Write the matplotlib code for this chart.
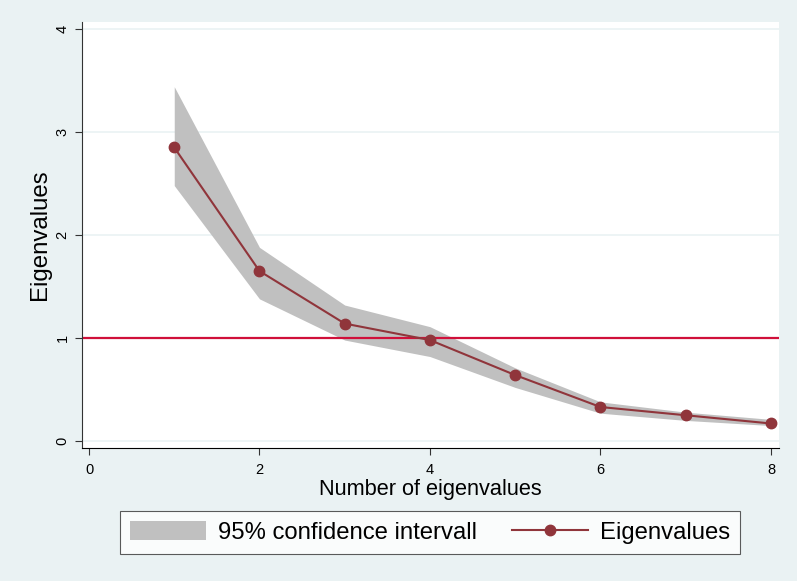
import matplotlib
matplotlib.use("Agg")
import matplotlib.pyplot as plt

plt.rcParams["font.family"] = ["Liberation Sans", "DejaVu Sans"]

# scree plot data
components = [1, 2, 3, 4, 5, 6, 7, 8]
eigenvalues = [2.85, 1.65, 1.14, 0.98, 0.64, 0.33, 0.25, 0.17]
ci_upper = [3.44, 1.88, 1.32, 1.11, 0.71, 0.38, 0.28, 0.21]
ci_lower = [2.48, 1.38, 0.98, 0.82, 0.52, 0.27, 0.20, 0.15]
kaiser_line = 1
y_ticks = [0, 1, 2, 3, 4]
x_ticks = [0, 2, 4, 6, 8]

bg = "#eaf2f3"
maroon = "#90353b"

fig = plt.figure(figsize=(7.97, 5.81), dpi=100, facecolor=bg)
ax = fig.add_axes([0.1029, 0.2289, 0.8745, 0.7332])
ax.set_facecolor("white")

for t in y_ticks:
    ax.axhline(t, color="#eaf2f3", linewidth=1.2, zorder=0)

ax.fill_between(components, ci_lower, ci_upper, color="#c0c0c0", linewidth=0,
                label="95% confidence intervall", zorder=1)
ax.axhline(kaiser_line, color="#d0103a", linewidth=1.6, zorder=2)
ax.plot(components, eigenvalues, color=maroon, linewidth=1.5, marker="o",
        markersize=7.5, label="Eigenvalues", zorder=3)

ax.set_xlim(-0.082, 8.094)
ax.set_ylim(-0.068, 4.068)
ax.set_xticks(x_ticks)
ax.set_yticks(y_ticks)
ax.tick_params(axis="y", labelrotation=90, labelsize=10.5, length=5, pad=4,
               color="#333333")
ax.tick_params(axis="x", labelsize=10.5, length=5, pad=6, color="#333333")
for lab in ax.get_yticklabels():
    lab.set_verticalalignment("center")

ax.spines["top"].set_visible(False)
ax.spines["right"].set_visible(False)
ax.spines["left"].set_color("#333333")
ax.spines["bottom"].set_color("black")

ax.set_xlabel("Number of eigenvalues", fontsize=15.7, labelpad=1)
ax.set_ylabel("Eigenvalues", fontsize=17.3, labelpad=3)

leg = fig.legend(loc="center", bbox_to_anchor=(0.5395, 0.0835), ncol=2,
                 fontsize=17.2, frameon=True, fancybox=False, edgecolor="#333333",
                 handlelength=3.18, handleheight=0.84, handletextpad=0.5,
                 columnspacing=1.46, borderpad=0.42, borderaxespad=0)
leg.get_frame().set_linewidth(0.8)

fig.savefig("out.png", dpi=100, facecolor=bg)
